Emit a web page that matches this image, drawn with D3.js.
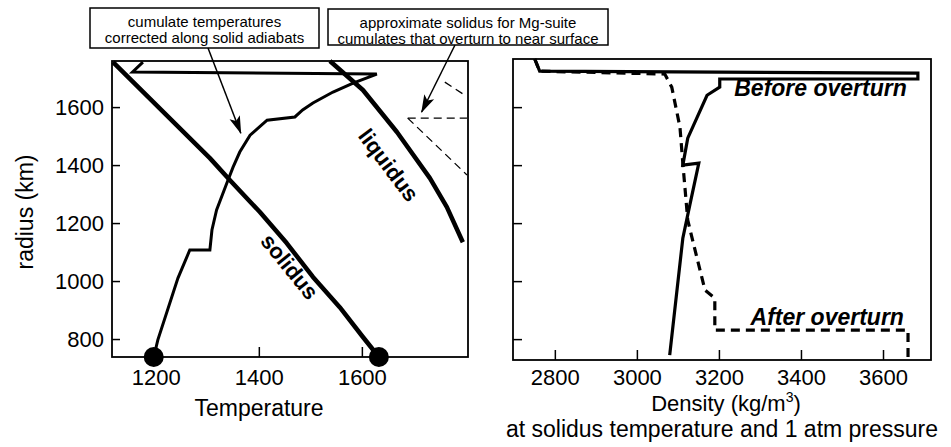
<!DOCTYPE html>
<html>
<head>
<meta charset="utf-8">
<script src="https://cdn.jsdelivr.net/npm/d3@7"></script>
<style>
  body { margin: 0; background: #fff; }
  text { font-family: "Liberation Sans", Arial, sans-serif; fill: #000; }
</style>
</head>
<body>
<div id="chart"></div>
<script>
// tick values
var tempTicks = [1200, 1400, 1600];
var radiusTicks = [800, 1000, 1200, 1400, 1600];
var densityTicks = [2800, 3000, 3200, 3400, 3600];

// left panel: temperature vs radius
var solidusT = [1117, 1305, 1344, 1402, 1454, 1505, 1557, 1602, 1633];
var solidusR = [1755, 1424, 1348, 1238, 1131, 1014, 910, 807, 738];
var liquidusT = [1538, 1602, 1668, 1732, 1765, 1796];
var liquidusR = [1759, 1659, 1514, 1355, 1255, 1134];
var cumulateT = [1196, 1204, 1243, 1266, 1305, 1309, 1318, 1338, 1350, 1363, 1383, 1416, 1470, 1485, 1505, 1544, 1583, 1629, 1155, 1175];
var cumulateR = [738, 797, 1010, 1107, 1107, 1176, 1245, 1338, 1393, 1445, 1503, 1555, 1566, 1590, 1614, 1652, 1683, 1714, 1721, 1755];
var dotT = [1196, 1633];
var dotR = [738, 738];
// approximate Mg-suite solidus (dashed)
var mgLowerT = [1689, 1804], mgLowerR = [1562, 1366];
var mgFlatT = [1689, 1804], mgFlatR = [1562, 1562];
var mgUpperT = [1761, 1800], mgUpperR = [1686, 1641];

// right panel: density vs radius
var beforeD = [2751, 2763, 3685, 3685, 3202, 3202, 3171, 3124, 3112, 3151, 3129, 3112, 3080];
var beforeR = [1766, 1724, 1717, 1697, 1697, 1669, 1641, 1493, 1400, 1407, 1262, 1148, 745];
var afterD = [2751, 2763, 3068, 3085, 3105, 3112, 3124, 3146, 3166, 3190, 3190, 3661, 3661];
var afterR = [1766, 1724, 1714, 1669, 1531, 1407, 1210, 1083, 969, 941, 831, 831, 738];

var zip = function(a, b) { return a.map(function(v, i) { return [v, b[i]]; }); };

var svg = d3.select("#chart").append("svg")
    .attr("width", 951)
    .attr("height", 447);

svg.append("defs").append("marker")
    .attr("id", "head")
    .attr("viewBox", "0 -6 18 12")
    .attr("refX", 17).attr("refY", 0)
    .attr("markerWidth", 18).attr("markerHeight", 12)
    .attr("markerUnits", "userSpaceOnUse")
    .attr("orient", "auto")
  .append("path")
    .attr("d", "M0,-5.5L18,0L0,5.5L4,0Z")
    .attr("fill", "#000");

// ---------- left panel ----------
var xL = d3.scaleLinear().domain([1115, 1806]).range([112, 468]);
var yL = d3.scaleLinear().domain([738, 1759]).range([357, 61]);

var left = svg.append("g");

left.append("g")
    .attr("transform", "translate(0,357)")
    .call(d3.axisBottom(xL).tickValues(tempTicks).tickFormat(d3.format("d"))
      .tickSize(-10).tickSizeOuter(0).tickPadding(12))
    .call(function(g) { g.select(".domain").remove(); })
    .selectAll("text").style("font-size", "22px").attr("font-family", null);

left.append("g")
    .attr("transform", "translate(112,0)")
    .call(d3.axisLeft(yL).tickValues(radiusTicks).tickFormat(d3.format("d"))
      .tickSize(-8).tickSizeOuter(0).tickPadding(8))
    .call(function(g) { g.select(".domain").remove(); })
    .selectAll("text").style("font-size", "22px").attr("font-family", null);

left.selectAll(".tick line").attr("stroke-width", 1.5);

left.append("rect")
    .attr("x", 112).attr("y", 61)
    .attr("width", 356).attr("height", 296)
    .attr("fill", "none").attr("stroke", "#000").attr("stroke-width", 1.8);

var lineL = d3.line().x(function(d) { return xL(d[0]); }).y(function(d) { return yL(d[1]); });

left.append("path")
    .datum(zip(solidusT, solidusR))
    .attr("d", lineL)
    .attr("fill", "none").attr("stroke", "#000").attr("stroke-width", 4.5)
    .attr("stroke-linejoin", "round");

left.append("path")
    .datum(zip(liquidusT, liquidusR))
    .attr("d", lineL)
    .attr("fill", "none").attr("stroke", "#000").attr("stroke-width", 4.5)
    .attr("stroke-linejoin", "round");

left.append("path")
    .datum(zip(cumulateT, cumulateR))
    .attr("d", lineL)
    .attr("fill", "none").attr("stroke", "#000").attr("stroke-width", 3)
    .attr("stroke-linejoin", "miter");

[[mgLowerT, mgLowerR], [mgFlatT, mgFlatR], [mgUpperT, mgUpperR]].forEach(function(s) {
  left.append("path")
      .datum(zip(s[0], s[1]))
      .attr("d", lineL)
      .attr("fill", "none").attr("stroke", "#000").attr("stroke-width", 1.3)
      .attr("stroke-dasharray", "8,5");
});

left.selectAll("circle")
    .data(zip(dotT, dotR))
    .enter().append("circle")
    .attr("cx", function(d) { return xL(d[0]); })
    .attr("cy", function(d) { return yL(d[1]); })
    .attr("r", 10)
    .attr("fill", "#000");

// curve labels
left.append("text")
    .attr("transform", "translate(" + xL(1460) + "," + yL(1050) + ") rotate(51)")
    .attr("text-anchor", "middle").attr("dy", "0.35em")
    .style("font-size", "22px").style("font-weight", "bold")
    .text("solidus");

left.append("text")
    .attr("transform", "translate(" + xL(1652) + "," + yL(1400) + ") rotate(53)")
    .attr("text-anchor", "middle").attr("dy", "0.35em")
    .style("font-size", "22px").style("font-weight", "bold")
    .text("liquidus");

// axis labels
left.append("text")
    .attr("x", 259).attr("y", 416)
    .attr("text-anchor", "middle")
    .style("font-size", "23px")
    .text("Temperature");

left.append("text")
    .attr("transform", "translate(33,212) rotate(-90)")
    .attr("text-anchor", "middle")
    .style("font-size", "23px")
    .text("radius (km)");

// annotation boxes
function noteBox(x, y, w, h, lines) {
  svg.append("rect")
      .attr("x", x).attr("y", y).attr("width", w).attr("height", h)
      .attr("fill", "#fff").attr("stroke", "#000").attr("stroke-width", 1.5);
  lines.forEach(function(t, i) {
    svg.append("text")
        .attr("x", x + w / 2).attr("y", y + 19 + i * 15.5)
        .attr("text-anchor", "middle")
        .style("font-size", "15px")
        .text(t);
  });
}
noteBox(90, 8, 229, 40, ["cumulate temperatures", "corrected along solid adiabats"]);
noteBox(328, 9, 280, 36, ["approximate solidus for Mg-suite", "cumulates that overturn to near surface"]);

svg.append("line")
    .attr("x1", 208).attr("y1", 48)
    .attr("x2", xL(1365)).attr("y2", yL(1510))
    .attr("stroke", "#000").attr("stroke-width", 1.5)
    .attr("marker-end", "url(#head)");

svg.append("line")
    .attr("x1", 455).attr("y1", 45)
    .attr("x2", xL(1716)).attr("y2", yL(1583))
    .attr("stroke", "#000").attr("stroke-width", 1.5)
    .attr("marker-end", "url(#head)");

// ---------- right panel ----------
var xR = d3.scaleLinear().domain([2698, 3717]).range([513, 931]);
var yR = d3.scaleLinear().domain([728, 1766]).range([360, 59]);

var right = svg.append("g");

right.append("g")
    .attr("transform", "translate(0,360)")
    .call(d3.axisBottom(xR).tickValues(densityTicks).tickFormat(d3.format("d"))
      .tickSize(-10).tickSizeOuter(0).tickPadding(9))
    .call(function(g) { g.select(".domain").remove(); })
    .selectAll("text").style("font-size", "22px").attr("font-family", null);

right.append("g")
    .attr("transform", "translate(513,0)")
    .call(d3.axisLeft(yR).tickValues(radiusTicks).tickSize(-9).tickSizeOuter(0).tickFormat(""))
    .call(function(g) { g.select(".domain").remove(); });

right.selectAll(".tick line").attr("stroke-width", 1.5);

right.append("rect")
    .attr("x", 513).attr("y", 59)
    .attr("width", 418).attr("height", 301)
    .attr("fill", "none").attr("stroke", "#000").attr("stroke-width", 1.8);

var lineR = d3.line().x(function(d) { return xR(d[0]); }).y(function(d) { return yR(d[1]); });

right.append("path")
    .datum(zip(afterD, afterR))
    .attr("d", lineR)
    .attr("fill", "none").attr("stroke", "#000").attr("stroke-width", 3.2)
    .attr("stroke-dasharray", "9,6");

right.append("path")
    .datum(zip(beforeD, beforeR))
    .attr("d", lineR)
    .attr("fill", "none").attr("stroke", "#000").attr("stroke-width", 3.2)
    .attr("stroke-linejoin", "miter");

right.append("text")
    .attr("x", xR(3658)).attr("y", yR(1637))
    .attr("text-anchor", "end")
    .style("font-size", "23px").style("font-weight", "bold").style("font-style", "italic")
    .text("Before overturn");

right.append("text")
    .attr("x", xR(3651)).attr("y", yR(848))
    .attr("text-anchor", "end")
    .style("font-size", "23px").style("font-weight", "bold").style("font-style", "italic")
    .text("After overturn");

var dens = right.append("text")
    .attr("x", 726).attr("y", 411)
    .attr("text-anchor", "middle")
    .style("font-size", "22px");
dens.append("tspan").text("Density (kg/m");
dens.append("tspan").attr("dy", -9).style("font-size", "14px").text("3");
dens.append("tspan").attr("dy", 9).text(")");

right.append("text")
    .attr("x", 722).attr("y", 437)
    .attr("text-anchor", "middle")
    .style("font-size", "23px")
    .text("at solidus temperature and 1 atm pressure");
</script>
</body>
</html>
